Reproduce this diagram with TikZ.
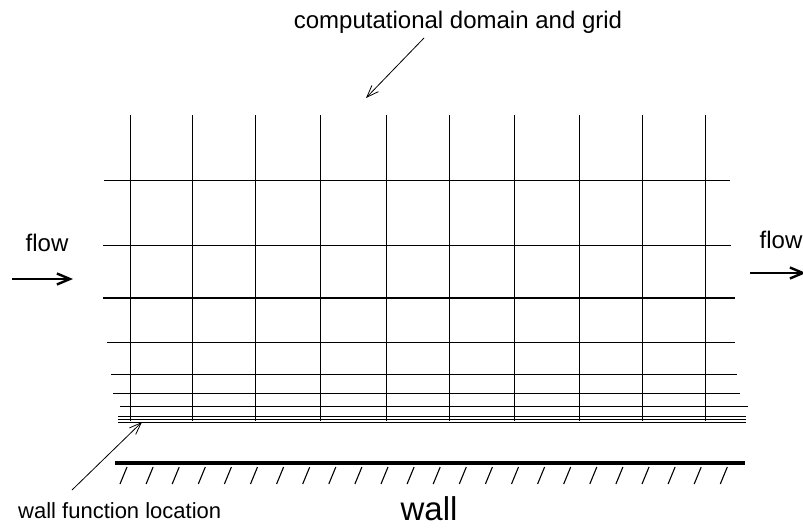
\documentclass[tikz,border=0pt]{standalone}
\usepackage{fontspec}
\setmainfont{Liberation Sans}
\usetikzlibrary{arrows.meta}
\begin{document}
\begin{tikzpicture}[x=1pt,y=-1pt,
  gridline/.style={line width=1pt},
  thinarrow/.style={line width=0.8pt,-{Straight Barb[length=12pt,width=9pt,line width=0.8pt]}},
  flowarrow/.style={line width=2.8pt,-{Straight Barb[length=13pt,width=11pt,line width=2.4pt]}},
  lbl/.style={font=\fontsize{24}{28}\selectfont,inner sep=0pt},
  hatch/.style={line width=1.1pt}]
\useasboundingbox (0,0) rectangle (803,529);
% vertical grid lines
\foreach \x in {130,192,255,320,386,449,514,579,642,705}
  \draw[gridline] (\x,115) -- (\x,421);
% horizontal grid lines, refined toward the wall
\draw[gridline] (104,181) -- (730,181);
\draw[gridline] (103,246) -- (731,246);
\draw[line width=1.5pt] (103,298) -- (735,298);
\draw[gridline] (107,342) -- (735,342);
\draw[gridline] (111,374) -- (737,374);
\draw[gridline] (113,393) -- (740,393);
\draw[gridline] (120,406) -- (748,406);
\draw[gridline] (118,416) -- (746,416);
\draw[gridline] (118,419) -- (746,419);
\draw[gridline] (118,422) -- (746,422);
% wall
\draw[line width=4pt] (115,463) -- (745,463);
\foreach \i in {0,...,23}
  \draw[hatch] ({127+26.1*\i},467) -- ({120+26.1*\i},484);
% labels
\node[lbl] (dom) at (458,22) {computational domain and grid};
\coordinate (domtail) at (424,38);
\coordinate (domtip) at (366,98);
\draw[thinarrow] (domtail) -- (domtip);
\node[lbl] (flowin) at (47,243) {flow};
\coordinate (inA) at (12,279);
\coordinate (inB) at (73,279);
\draw[flowarrow] (inA) -- (inB);
\node[lbl] (flowout) at (781,240) {flow};
\coordinate (outA) at (750,273);
\coordinate (outB) at (806,273);
\draw[flowarrow] (outA) -- (outB);
\node[lbl,anchor=west,font=\fontsize{22}{26}\selectfont] (wfl) at (18,511) {wall function location};
\coordinate (wftail) at (72,490);
\coordinate (wftip) at (142,422);
\draw[thinarrow] (wftail) -- (wftip);
\node[inner sep=0pt,font=\fontsize{33}{36}\selectfont] (wall) at (429,509) {wall};
\end{tikzpicture}
\end{document}
